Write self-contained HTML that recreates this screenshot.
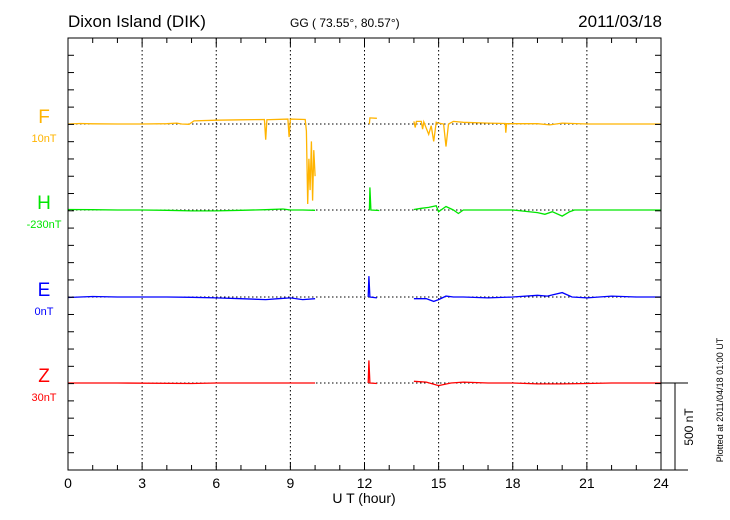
<!DOCTYPE html>
<html><head><meta charset="utf-8"><style>
body{margin:0;background:#fff;}
svg{display:block;font-family:"Liberation Sans",Arial,sans-serif;}
</style></head><body>
<svg id="chart" width="730" height="520">
<text x="68" y="27" font-size="17">Dixon Island (DIK)</text>
<text x="290" y="27" font-size="12">GG ( 73.55°,  80.57°)</text>
<text x="662" y="27" font-size="17" text-anchor="end">2011/03/18</text>
<g id="grid"></g>
<g id="series"></g>
<rect x="68" y="38" width="593" height="432" fill="none" stroke="#000" stroke-width="1"/>
<g id="axes"></g>
<text x="364" y="503" font-size="14" text-anchor="middle">U T (hour)</text>
<line x1="661" y1="383" x2="688" y2="383" stroke="#000"/>
<line x1="675" y1="383" x2="675" y2="470" stroke="#000"/>
<line x1="661" y1="470" x2="688" y2="470" stroke="#000"/>
<text transform="translate(693,427) rotate(-90)" font-size="12" text-anchor="middle">500 nT</text>
<text transform="translate(723,400) rotate(-90)" font-size="9" text-anchor="middle">Plotted at 2011/04/18 01:00 UT</text>
</svg>
<script>
const xTicks=[0,3,6,9,12,15,18,21,24];
const channels=["F","H","E","Z"];
const baseLabels=["10nT","-230nT","0nT","30nT"];
const fTimes=[0,0.5,1,2,3,4,4.4,4.6,4.9,5.1,6,7,7.95,8.0,8.05,8.9,8.95,9.0,9.6,9.65,9.7,9.75,9.8,9.85,9.9,9.95,10.0,11,12.2,12.22,12.5,13,14.0,14.05,14.1,14.3,14.35,14.4,14.6,14.7,14.8,14.9,15.0,15.2,15.3,15.4,15.6,16,17,17.7,17.72,17.75,18,19,19.5,20,21,22,24];
const fValues=[0,3,1,0,0,2,5,0,-2,18,22,24,26,-90,25,28,-75,28,26,-40,-460,-200,-380,-100,-440,-150,-300,null,0,35,33,null,15,-20,15,15,-30,12,-60,-10,-100,10,5,0,-130,0,15,10,5,3,-50,2,2,2,-5,5,0,0,0];
const hTimes=[0,1,2,3,4,5,6,7,8,8.7,9,9.5,10,11,12.2,12.22,12.26,12.6,13,14,14.3,14.6,14.9,15,15.3,15.6,15.8,16,17,18,19,19.3,19.6,20,20.3,20.5,21,24];
const hValues=[3,2,0,0,-2,-5,-5,-2,2,6,0,0,-2,null,0,130,0,-3,null,3,10,15,25,-10,20,0,-20,0,0,0,-15,-25,-10,-35,-10,0,0,0];
const eTimes=[0,1,2,3,4,5,6,7,8,8.5,9,9.5,10,11,12.15,12.18,12.22,12.5,13,14,14.5,14.8,15,15.3,15.6,16,17,18,19,19.4,20,20.4,21,22,23,24];
const eValues=[-3,3,0,0,0,-2,-5,-10,-15,-10,-5,-15,-10,null,0,120,0,-5,null,-10,-10,-25,-15,5,0,0,-5,0,10,5,25,0,-5,5,0,0];
const zTimes=[0,1,2,5,6,8,10,11,12.15,12.18,12.22,12.5,13,14,14.5,15,15.5,16,17,18,19,20,21,22,24];
const zValues=[0,0,0,-3,0,0,0,null,0,130,0,-3,null,10,5,-15,0,5,0,0,-5,-5,-3,0,0];
const colors=["#ffb400","#00e600","#0000ff","#ff0000"];
const baselines=[124,210,297,383];
const NS="http://www.w3.org/2000/svg";
const X=h=>68+h*(593/24);
const Y=(v,i)=>baselines[i]-v*(87/500);
const grid=document.getElementById('grid'),axes=document.getElementById('axes'),ser=document.getElementById('series');
function mk(tag,attrs,parent){const e=document.createElementNS(NS,tag);for(const k in attrs)e.setAttribute(k,attrs[k]);parent.appendChild(e);return e;}
xTicks.forEach(t=>{
  if(t>0&&t<24){const l=mk('line',{x1:X(t),x2:X(t),y1:38,y2:470,stroke:'#000','stroke-dasharray':'1.5,2.5','stroke-width':1},grid);
  
  }
  const tx=mk('text',{x:X(t),y:488,'font-size':14,'text-anchor':'middle'},axes);tx.textContent=t;
  
  
});
for(let h=0;h<=24;h++){const len=(h%3==0)?8:5;
  mk('line',{x1:X(h),x2:X(h),y1:38,y2:38+len,stroke:'#000'},axes);
  mk('line',{x1:X(h),x2:X(h),y1:470,y2:470-len,stroke:'#000'},axes);}
for(let k=0;k<=25;k++){const y=38+k*432/25;
  mk('line',{x1:68,x2:74,y1:y,y2:y,stroke:'#000'},axes);
  mk('line',{x1:661,x2:655,y1:y,y2:y,stroke:'#000'},axes);}
const data=[[fTimes,fValues],[hTimes,hValues],[eTimes,eValues],[zTimes,zValues]];
data.forEach((d,i)=>{
  const bl=mk('line',{x1:68,x2:661,y1:baselines[i],y2:baselines[i],stroke:'#000','stroke-dasharray':'1.5,2.5'},grid);
  
  
  let p='',pen=false;
  d[0].forEach((t,j)=>{const v=d[1][j];if(v===null){pen=false;return;}
    p+=(pen?'L':'M')+X(t).toFixed(1)+','+Y(v,i).toFixed(1);pen=true;});
  const path=mk('path',{d:p,fill:'none',stroke:colors[i],'stroke-width':1.3},ser);
  
  
  const lab=mk('text',{x:44,y:baselines[i]-1,'font-size':19,'text-anchor':'middle',fill:colors[i]},axes);lab.textContent=channels[i];
  
  
  const bl2=mk('text',{x:44,y:baselines[i]+18,'font-size':11,'text-anchor':'middle',fill:colors[i]},axes);bl2.textContent=baseLabels[i];
  
  
});
</script>
</body></html>
